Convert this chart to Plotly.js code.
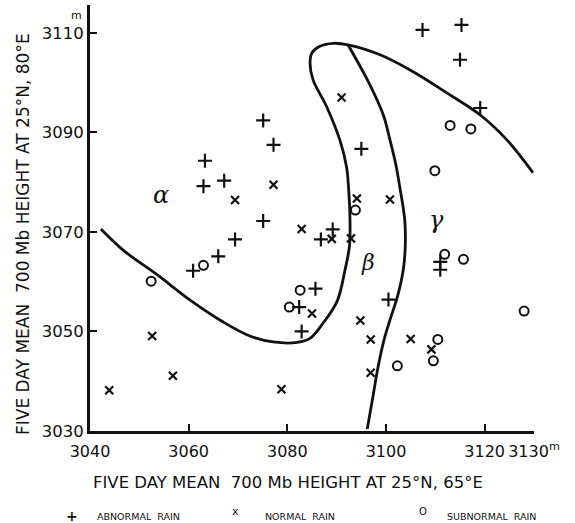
<!DOCTYPE html>
<html>
<head>
<meta charset="utf-8">
<script src="https://cdn.plot.ly/plotly-3.0.1.min.js"></script>
<style>html,body{margin:0;padding:0;background:#fff;}#chart{width:575px;height:523px;}</style>
</head>
<body>
<div id="chart"></div>
<script>
// ---- Data ----
// Abnormal rain (+)
const abnormalX = [3075.1, 3077.2, 3063.3, 3063.0, 3067.2, 3075.1, 3069.4, 3066.0, 3060.9, 3089.2, 3086.8, 3095.0, 3107.4, 3115.3, 3115.0, 3119.1, 3085.7, 3082.4, 3082.9, 3100.5, 3111.0, 3111.0];
const abnormalY = [3092.4, 3087.5, 3084.3, 3079.2, 3080.3, 3072.2, 3068.5, 3065.1, 3062.2, 3070.5, 3068.5, 3086.7, 3110.6, 3111.6, 3104.6, 3094.9, 3058.6, 3054.9, 3050.0, 3056.4, 3064.0, 3062.4];
// Normal rain (x)
const normalX = [3069.4, 3077.2, 3082.9, 3089.0, 3092.9, 3091.0, 3094.1, 3100.8, 3052.6, 3056.8, 3043.9, 3078.8, 3085.0, 3094.8, 3096.9, 3096.9, 3105.0, 3109.2];
const normalY = [3076.4, 3079.5, 3070.6, 3068.6, 3068.7, 3097.0, 3076.7, 3076.5, 3049.1, 3041.1, 3038.2, 3038.4, 3053.6, 3052.2, 3048.4, 3041.7, 3048.5, 3046.4];
// Subnormal rain (o)
const subnormalX = [3093.8, 3113.0, 3117.2, 3109.9, 3063.0, 3052.4, 3082.6, 3080.4, 3111.9, 3115.7, 3128.0, 3110.5, 3109.6, 3102.3];
const subnormalY = [3074.4, 3091.4, 3090.7, 3082.3, 3063.3, 3060.1, 3058.3, 3054.9, 3065.5, 3064.5, 3054.1, 3048.4, 3044.1, 3043.1];
// Boundary curves
const curveAX = [3042.2, 3046.9, 3053.6, 3060.3, 3067.0, 3072.4, 3077.1, 3082.0, 3084.6, 3087.2, 3090.1, 3091.7, 3092.6, 3092.7, 3092.4, 3092.0, 3090.7, 3088.0, 3085.2, 3084.6, 3085.0, 3086.6, 3089.3, 3092.3, 3098.8, 3105.5, 3112.4, 3119.1, 3124.5, 3129.8];
const curveAY = [3070.6, 3066.2, 3061.4, 3056.3, 3051.9, 3049.1, 3047.9, 3047.8, 3048.6, 3051.6, 3056.1, 3062.4, 3067.2, 3072.4, 3079.0, 3083.1, 3088.3, 3095.1, 3100.6, 3104.0, 3106.0, 3107.3, 3107.9, 3107.6, 3105.6, 3102.2, 3097.9, 3093.5, 3088.5, 3081.9];
const curveBX = [3092.3, 3096.2, 3098.2, 3099.6, 3100.8, 3102.0, 3102.8, 3103.8, 3103.9, 3103.5, 3102.4, 3100.8, 3099.6, 3098.4, 3097.4, 3096.2];
const curveBY = [3107.6, 3100.6, 3096.5, 3093.1, 3088.5, 3083.5, 3079.0, 3072.4, 3067.0, 3062.4, 3057.3, 3052.3, 3048.3, 3042.9, 3037.2, 3030.4];
// Ticks
const xTickVals = [3040, 3060, 3080, 3100, 3120, 3130];
const xTickText = ['3040', '3060', '3080', '3100', '3120', '3130<sup>m</sup>'];
const yTickVals = [3030, 3050, 3070, 3090, 3110];
const yTickText = ['3030', '3050', '3070', '3090', '3110'];
// Texts
const xTitle = 'FIVE DAY MEAN  700 Mb HEIGHT AT 25°N, 65°E';
const yTitle = 'FIVE DAY MEAN  700 Mb HEIGHT AT 25°N, 80°E';
const legendNames = ['ABNORMAL  RAIN', 'NORMAL  RAIN', 'SUBNORMAL  RAIN'];

const FONT = 'DejaVu Sans, Arial, sans-serif';
const ink = '#111';

const traces = [
  {x: curveAX, y: curveAY, mode: 'lines', line: {color: ink, width: 2.8, shape: 'spline', smoothing: 1}, hoverinfo: 'skip', showlegend: false},
  {x: curveBX, y: curveBY, mode: 'lines', line: {color: ink, width: 2.8, shape: 'spline', smoothing: 1}, hoverinfo: 'skip', showlegend: false},
  {x: abnormalX, y: abnormalY, mode: 'markers', name: legendNames[0], marker: {symbol: 'cross-thin-open', size: 10, color: ink, line: {color: ink, width: 2.2}}, showlegend: false},
  {x: normalX, y: normalY, mode: 'markers', name: legendNames[1], marker: {symbol: 'x-thin-open', size: 8, color: ink, line: {color: ink, width: 2.2}}, showlegend: false},
  {x: subnormalX, y: subnormalY, mode: 'markers', name: legendNames[2], marker: {symbol: 'circle-open', size: 9, color: ink, line: {color: ink, width: 2}}, showlegend: false}
];

function px2paperX(px) { return (px - 90) / 444; }
function px2paperY(py) { return (431 - py) / 426; }

const annotations = [
  {text: xTitle, xref: 'paper', yref: 'paper', x: px2paperX(288), y: px2paperY(482), xanchor: 'center', yanchor: 'middle', showarrow: false, font: {family: FONT, size: 16.5, color: ink}},
  {text: yTitle, xref: 'paper', yref: 'paper', x: px2paperX(23), y: px2paperY(234), xanchor: 'center', yanchor: 'middle', textangle: -90, showarrow: false, font: {family: FONT, size: 17, color: ink}},
  {text: 'm', xref: 'paper', yref: 'paper', x: px2paperX(76), y: px2paperY(15), xanchor: 'center', yanchor: 'middle', showarrow: false, font: {family: FONT, size: 11, color: ink}},
  {text: '<i>α</i>', xref: 'x', yref: 'y', x: 3054.4, y: 3077.4, showarrow: false, font: {family: 'DejaVu Serif, serif', size: 24, color: ink}},
  {text: '<i>β</i>', xref: 'x', yref: 'y', x: 3096.4, y: 3063.8, showarrow: false, font: {family: 'DejaVu Serif, serif', size: 22, color: ink}},
  {text: '<i>γ</i>', xref: 'x', yref: 'y', x: 3110.3, y: 3072.4, showarrow: false, font: {family: 'DejaVu Serif, serif', size: 24, color: ink}},
  // legend
  {text: '<b>+</b>', xref: 'paper', yref: 'paper', x: px2paperX(72), y: px2paperY(516), xanchor: 'center', yanchor: 'middle', showarrow: false, font: {family: FONT, size: 14, color: ink}},
  {text: legendNames[0], xref: 'paper', yref: 'paper', x: px2paperX(95), y: px2paperY(516), xanchor: 'left', yanchor: 'middle', showarrow: false, font: {family: FONT, size: 9.5, color: ink}},
  {text: 'x', xref: 'paper', yref: 'paper', x: px2paperX(235), y: px2paperY(511), xanchor: 'center', yanchor: 'middle', showarrow: false, font: {family: FONT, size: 11, color: ink}},
  {text: legendNames[1], xref: 'paper', yref: 'paper', x: px2paperX(263), y: px2paperY(516), xanchor: 'left', yanchor: 'middle', showarrow: false, font: {family: FONT, size: 9.5, color: ink}},
  {text: 'O', xref: 'paper', yref: 'paper', x: px2paperX(423), y: px2paperY(511), xanchor: 'center', yanchor: 'middle', showarrow: false, font: {family: FONT, size: 10, color: ink}},
  {text: legendNames[2], xref: 'paper', yref: 'paper', x: px2paperX(445), y: px2paperY(516), xanchor: 'left', yanchor: 'middle', showarrow: false, font: {family: FONT, size: 9.5, color: ink}}
];

const layout = {
  width: 575, height: 523,
  margin: {l: 90, r: 41, t: 5, b: 92, pad: 0},
  paper_bgcolor: '#fff', plot_bgcolor: '#fff',
  showlegend: false,
  font: {family: FONT, color: ink},
  xaxis: {
    range: [3040, 3130], showgrid: false, zeroline: false, showline: true, linecolor: ink, linewidth: 2.5,
    ticks: 'inside', ticklen: 7, tickwidth: 2, tickcolor: ink,
    tickmode: 'array', tickvals: xTickVals, ticktext: xTickText, tickangle: 0,
    tickfont: {family: FONT, size: 16, color: ink}, ticklabelstandoff: 4
  },
  yaxis: {
    range: [3030, 3115.6], showgrid: false, zeroline: false, showline: true, linecolor: ink, linewidth: 3,
    ticks: 'inside', ticklen: 7, tickwidth: 2, tickcolor: ink,
    tickmode: 'array', tickvals: yTickVals, ticktext: yTickText,
    tickfont: {family: FONT, size: 16.5, color: ink}
  },
  annotations: annotations
};

Plotly.newPlot('chart', traces, layout, {displayModeBar: false, staticPlot: true});
</script>
</body>
</html>
